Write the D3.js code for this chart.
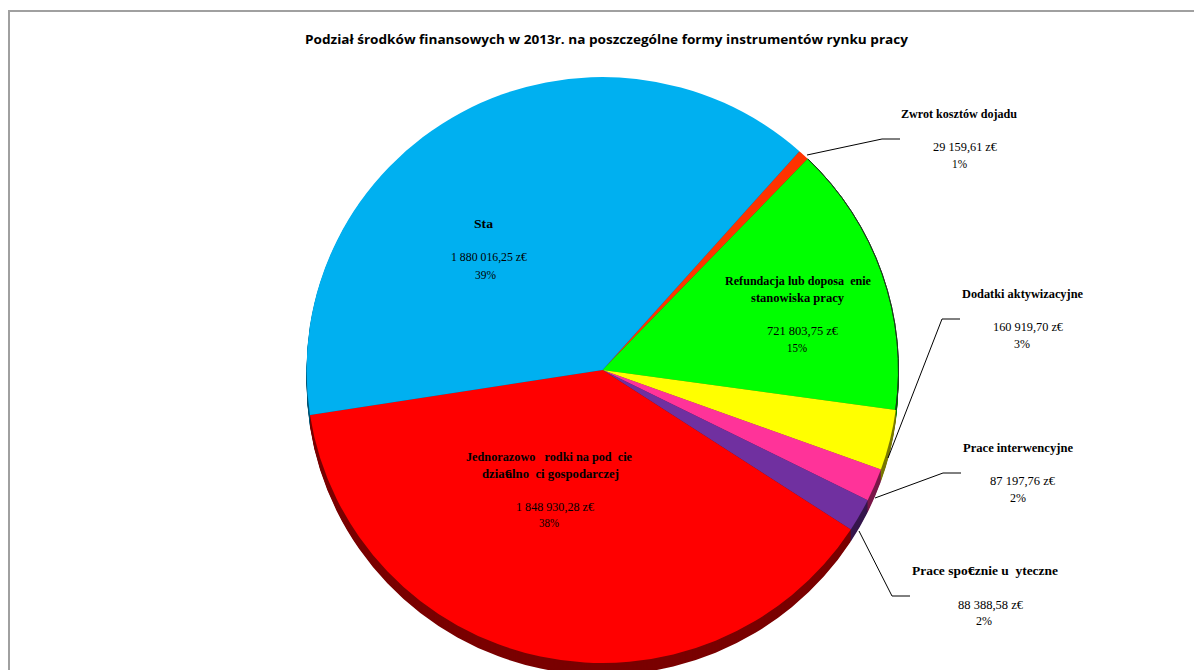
<!DOCTYPE html>
<html><head><meta charset="utf-8">
<script src="https://cdnjs.cloudflare.com/ajax/libs/d3/7.8.5/d3.min.js"></script>
<style>html,body{margin:0;padding:0;background:#fff;overflow:hidden}svg{display:block}</style>
</head><body><svg id="c" width="1194" height="670"></svg>
<script>
const chartTitle = "Podział środków finansowych w 2013r. na poszczególne formy instrumentów rynku pracy";
const categories = ["Zwrot kosztów dojadu","Refundacja","Dodatki aktywizacyjne","Prace interwencyjne","Prace społecznie użyteczne","Jednorazowo środki","Staż"];
const seriesValues = [29159.61,721803.75,160919.70,87197.76,88388.58,1848930.28,1880016.25];
const sliceColors = ["#FF3300","#00FF00","#FFFF00","#FF3399","#7030A0","#FF0000","#00B0F0"];
const nameLines = [["Zwrot kosztów dojadu"],["Refundacja lub doposa  enie","stanowiska pracy"],["Dodatki aktywizacyjne"],["Prace interwencyjne"],["Prace spo€cznie u  yteczne"],["Jednorazowo   rodki na pod  cie","dzia€alno  ci gospodarczej"],["Sta"]];
const valueLabels = ["29 159,61 z€","721 803,75 z€","160 919,70 z€","87 197,76 z€","88 388,58 z€","1 848 930,28 z€","1 880 016,25 z€"];
const percentLabels = ["1%","15%","3%","2%","2%","38%","39%"];

// annotation layout: [x start, x end, baseline] for each text line of each label
const labelLayout = [
 [[901,1017,118],[933,997,151],[952,967,168]],
 [[725,871,285],[751,844,302],[767,838,335],[787,807,352]],
 [[962,1083,298],[993,1063,331],[1014,1030,348]],
 [[963,1073,452],[990,1055,485],[1010,1026,502]],
 [[912,1058,575],[958,1023,609],[976,992,625]],
 [[466,632,461],[482,619,478],[516,594,511],[539,559,527]],
 [[474,493,228],[451,527,261],[475,496,279]]
];
const leaders = [
 [[807,155],[882,139],[900,139]],
 null,
 [[888,458],[942,319],[960,319]],
 [[875,498],[943,473],[961,473]],
 [[859,531],[892,596],[910,596]],
 null,null
];

const svg = d3.select("#c");
const cx=602.5, cy=370, rx=296, ry=293, depth=12, startDeg=41.7;

svg.append("path").attr("d","M1194 11 H9 V670").attr("fill","none").attr("stroke","#a0a0a0").attr("stroke-width",2);

svg.append("text").attr("x",305).attr("y",44).attr("textLength",603).attr("lengthAdjust","spacingAndGlyphs")
  .attr("font-family","'Open Sans',sans-serif").attr("font-weight",700).attr("font-size",12).attr("fill","#000").text(chartTitle);

const pie = d3.pie().sort(null).startAngle(startDeg*Math.PI/180).endAngle((startDeg+360)*Math.PI/180);
const arcs = pie(seriesValues);
const arc = d3.arc().innerRadius(0).outerRadius(rx);

const shade = c => { const k=d3.rgb(c); return d3.rgb(k.r*0.48,k.g*0.48,k.b*0.48).formatHex(); };
for(const off of d3.range(depth,0,-1)){
  svg.append("g").attr("transform",`translate(${cx},${cy+off}) scale(1,${ry/rx})`)
    .selectAll("path").data(arcs).join("path").attr("d",arc).attr("fill",(d,i)=>shade(sliceColors[i]));
}
const topFace = svg.append("g").attr("transform",`translate(${cx},${cy}) scale(1,${ry/rx})`);
topFace.selectAll("path").data(arcs).join("path").attr("d",arc).attr("fill",(d,i)=>sliceColors[i]);
// dark rim on the green slice
topFace.append("path").attr("d",d3.arc().innerRadius(rx).outerRadius(rx).startAngle(arcs[1].startAngle).endAngle(arcs[1].endAngle)())
  .attr("fill","none").attr("stroke","#1c3a1c").attr("stroke-width",1);

const line = d3.line();
svg.selectAll("path.leader").data(leaders.filter(Boolean)).join("path").attr("class","leader")
  .attr("d",line).attr("fill","none").attr("stroke","#000").attr("stroke-width",1);

categories.forEach((cat,i)=>{
  const lines = [...nameLines[i],valueLabels[i],percentLabels[i]];
  const nBold = nameLines[i].length;
  lines.forEach((t,j)=>{
    const [x0,x1,y] = labelLayout[i][j];
    const el = svg.append("text").attr("x",x0).attr("y",y)
      .attr("font-family","'Liberation Serif',serif").attr("font-size",12)
      .attr("font-weight",j<nBold?700:400).attr("fill","#000")
      .attr("xml:space","preserve").style("white-space","pre");
    if (j<nBold && t.includes("€")) {
      // the broken glyph sits on top of the following letter, as in the source
      const [a,b] = t.split("€");
      el.append("tspan").text(a+"€");
      el.append("tspan").attr("dx",-5).text(b);
      el.attr("textLength",x1-x0).attr("lengthAdjust","spacingAndGlyphs");
    } else {
      el.attr("textLength",x1-x0).attr("lengthAdjust","spacingAndGlyphs").text(t);
    }
  });
});
</script></body></html>
